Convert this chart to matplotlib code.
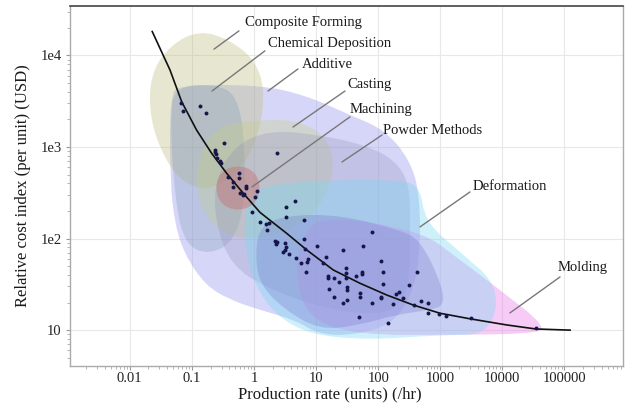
import numpy as np
import matplotlib
matplotlib.use('Agg')
import matplotlib.pyplot as plt
from matplotlib.path import Path
from matplotlib.patches import PathPatch
from matplotlib.ticker import LogLocator, NullFormatter, FixedLocator, FixedFormatter

plt.rcParams['font.family'] = ['Liberation Serif', 'DejaVu Serif']

# ---------------- data ----------------
x_ticks = [0.01, 0.1, 1, 10, 100, 1000, 10000, 100000]
x_tick_labels = ['0.01', '0.1', '1', '10', '100', '1000', '10000', '100000']
y_ticks = [10, 100, 1000, 10000]
y_tick_labels = ['10', '1e2', '1e3', '1e4']

# observed parts (production rate /hr, relative cost index USD)
rate_pts = [0.0668, 0.0719, 0.135, 0.169, 0.329, 0.235, 0.235, 0.244, 0.254, 0.283,
            0.294, 0.381, 0.573, 0.573, 0.459, 0.459, 0.743, 0.743, 0.595, 0.665,
            0.690, 2.32, 1.12, 1.04, 4.57, 3.24, 3.24, 0.918, 1.25, 1.56,
            1.74, 6.38, 1.60, 78.6, 2.18, 2.35, 2.26, 3.16, 3.27, 3.16,
            2.93, 3.66, 6.38, 10.2, 6.63, 4.75, 7.41, 7.13, 5.71, 6.88,
            12.8, 14.4, 27.4, 56.3, 110, 121, 417, 121, 317, 15.8,
            15.8, 19.4, 23.6, 30.3, 30.3, 30.3, 43.9, 54.8, 54.8, 16.3,
            31.4, 31.4, 19.4, 31.8, 27.4, 50.9, 50.9, 78.6, 111, 111,
            171, 194, 216, 251, 377, 489, 634, 634, 953, 1240,
            49.6, 142, 3090, 34400]
cost_pts = [3020, 2470, 2810, 2350, 1100, 927, 882, 839, 759, 703,
            668, 474, 520, 459, 415, 366, 375, 357, 315, 299,
            307, 866, 331, 284, 257, 223, 173, 197, 153, 144,
            148, 160, 124, 117, 94.2, 91.8, 87.3, 89.5, 81.0, 75.1,
            71.5, 67.9, 99.1, 83.6, 76.4, 60.9, 59.9, 55.6, 53.7, 43.5,
            53.7, 63.4, 75.1, 83.6, 56.9, 43.5, 42.9, 31.9, 31.1, 39.1,
            37.4, 36.9, 33.9, 47.8, 42.1, 37.2, 39.1, 43.2, 41.0, 28.0,
            29.7, 27.5, 22.9, 21.4, 19.7, 25.5, 23.2, 19.7, 23.0, 22.5,
            19.2, 24.8, 26.1, 22.5, 18.8, 20.8, 19.8, 15.5, 15.0, 14.3,
            13.8, 12.1, 13.5, 10.5]

# trend curve
fit_rate = [0.0230, 0.0444, 0.0685, 0.119, 0.208, 0.363, 0.673, 1.25, 3.36, 7.06,
            18.9, 50.9, 137, 367, 989, 3010, 11700, 34400, 123000]
fit_cost = [18200, 6930, 3120, 1530, 853, 516, 312, 193, 114, 75.1,
            45.4, 32.5, 24.2, 18.8, 15.3, 13.3, 11.4, 10.3, 10.0]

# process regions (outline control points: rate, cost)
additive_rate = [0.0444, 0.0643, 1.25, 6.63, 35.1, 129, 325, 471, 471, 325,
                 155, 42.3, 11.6, 4.57, 1.25, 0.411, 0.163, 0.0774, 0.0534, 0.0444]
additive_cost = [3690, 4750, 4750, 3690, 2240, 1530, 721, 299, 58.4, 21.4,
                 11.4, 8.87, 8.87, 12.9, 16.6, 21.4, 31.1, 66.2, 141, 436]

composite_rate = [0.135, 0.411, 1.04, 1.50, 1.25, 0.716, 0.235, 0.0774, 0.0369, 0.0211, 0.0211, 0.0444]
composite_cost = [18900, 14700, 8910, 4190, 1530, 636, 339, 385, 721, 1970, 6110, 13000]

chemdep_rate = [0.0534, 0.341, 0.595, 0.716, 0.716, 0.494, 0.196, 0.0774, 0.0534, 0.0444]
chemdep_cost = [4750, 4750, 2870, 927, 264, 96.6, 66.2, 85.2, 264, 1970]

casting_rate = [1.04, 5.50, 16.7, 20.1, 9.60, 2.62, 0.595, 0.196, 0.112, 0.135, 0.283]
casting_cost = [1970, 1970, 1190, 494, 181, 109, 96.6, 141, 339, 927, 1740]

powder_rate = [0.494, 1.81, 11.6, 61.3, 187, 325, 325, 325, 224, 107, 16.7, 1.81, 0.411, 0.235, 0.235]
powder_cost = [1050, 1530, 1350, 1050, 721, 385, 124, 35.3, 18.8, 14.7, 16.6, 27.5, 51.5, 160, 436]

molding_rate = [11.6, 471, 2080, 9140, 54200, 27800, 1430, 50.9, 7.98, 4.57, 5.50]
molding_cost = [181, 124, 58.4, 27.5, 10.6, 9.09, 8.87, 8.87, 12.9, 35.3, 96.6]

deformation_rate = [1.25, 16.7, 187, 471, 567, 2080, 9140, 6310, 989, 73.8, 7.98, 2.18, 1.04, 0.716, 0.716]
deformation_cost = [385, 436, 436, 385, 152, 71.5, 29.6, 8.87, 8.87, 7.82, 8.87, 14.7, 31.1, 75.1, 233]

dense_rate = [1.25, 3.80, 24.3, 224, 471, 989, 1190, 683, 187, 50.9, 11.6, 3.16, 1.25, 1.04]
dense_cost = [141, 181, 181, 124, 96.6, 35.3, 18.8, 16.6, 14.7, 11.4, 10.0, 16.6, 31.1, 66.2]

machining_rate = [0.553, 1.04, 1.30, 1.04, 0.553, 0.294, 0.235, 0.294]
machining_cost = [636, 547, 357, 233, 200, 233, 357, 547]

# ---------------- figure ----------------
fig = plt.figure(figsize=(6.28, 4.04), dpi=100)
ax = fig.add_axes([70 / 628, 1 - 366 / 404, (623 - 70) / 628, (366 - 6) / 404])
ax.set_xscale('log')
ax.set_yscale('log')
ax.set_xlim(0.00109, 875000)
ax.set_ylim(4.06, 34600)


def blob(xs, ys, color, alpha, z):
    xs = np.asarray(xs, float)
    ys = np.asarray(ys, float)
    lx, ly = np.log10(xs), np.log10(ys)
    mx = 10 ** ((lx + np.roll(lx, -1)) / 2)
    my = 10 ** ((ly + np.roll(ly, -1)) / 2)
    verts = [(mx[-1], my[-1])]
    codes = [Path.MOVETO]
    for i in range(len(xs)):
        verts += [(xs[i], ys[i]), (mx[i], my[i])]
        codes += [Path.CURVE3, Path.CURVE3]
    verts.append(verts[0])
    codes.append(Path.CLOSEPOLY)
    ax.add_patch(PathPatch(Path(verts, codes), facecolor=color, edgecolor='none',
                           alpha=alpha, zorder=z))


blob(additive_rate, additive_cost, '#9a9aee', 0.40, 2)
blob(composite_rate, composite_cost, '#bebe80', 0.36, 2.1)
blob(chemdep_rate, chemdep_cost, '#7898b0', 0.28, 2.2)
blob(casting_rate, casting_cost, '#c4d080', 0.32, 2.3)
blob(powder_rate, powder_cost, '#9090b8', 0.28, 2.4)
blob(molding_rate, molding_cost, '#ea86ea', 0.42, 2.5)
blob(deformation_rate, deformation_cost, '#78d8f2', 0.36, 2.6)
blob(dense_rate, dense_cost, '#7878cc', 0.30, 2.7)
blob(machining_rate, machining_cost, '#c86464', 0.38, 2.8)

ax.plot(fit_rate, fit_cost, color='#111111', lw=1.2, zorder=4)
ax.scatter(rate_pts, cost_pts, s=8, color='#16164a', zorder=5, linewidths=0)

# ---------------- labels with leader lines ----------------
labels = [
    ('Composite Forming', (0.227, 11700), (0.573, 18500), (0.716, 22600)),
    ('Chemical Deposition', (0.211, 4080), (1.50, 11200), (1.68, 13600)),
    ('Additive', (1.68, 4080), (5.11, 7110), (5.93, 7860)),
    ('Casting', (4.25, 1650), (29.2, 4080), (31.4, 4750)),
    ('Machining', (0.928, 366), (35.1, 2130), (35.1, 2540)),
    ('Powder Methods', (26.1, 685), (115, 1350), (119, 1530)),
    ('Deformation', (471, 134), (3010, 323), (3360, 366)),
    ('Molding', (13200, 15.4), (84700, 38.1), (78500, 47.8)),
]
for name, tip, end, tpos in labels:
    ax.annotate('', xy=tip, xytext=end,
                arrowprops=dict(arrowstyle='-', color='#777777', lw=1.0,
                                shrinkA=0, shrinkB=0), zorder=6)
    ax.text(tpos[0], tpos[1], name, ha='left', va='center', fontsize=10.5,
            color='#1a1a1a', zorder=7)

# ---------------- axes styling ----------------
ax.xaxis.set_major_locator(FixedLocator(x_ticks))
ax.xaxis.set_major_formatter(FixedFormatter(x_tick_labels))
ax.yaxis.set_major_locator(FixedLocator(y_ticks))
ax.yaxis.set_major_formatter(FixedFormatter(y_tick_labels))
ax.xaxis.set_minor_locator(LogLocator(base=10, subs=np.arange(2, 10), numticks=20))
ax.yaxis.set_minor_locator(LogLocator(base=10, subs=np.arange(2, 10), numticks=20))
ax.xaxis.set_minor_formatter(NullFormatter())
ax.yaxis.set_minor_formatter(NullFormatter())
ax.tick_params(which='major', direction='out', length=3, color='#999999',
               labelsize=10.5, labelcolor='#222222')
ax.tick_params(axis='x', which='major', pad=1.5)
ax.tick_params(axis='y', which='major', pad=3)
ax.tick_params(which='minor', direction='out', length=2, color='#aaaaaa')
ax.grid(True, which='major', color='#e8e8e8', lw=0.8)
ax.set_axisbelow(True)

for side in ['left', 'bottom', 'right']:
    ax.spines[side].set_color('#aaaaaa')
    ax.spines[side].set_linewidth(1.0)
ax.spines['top'].set_color('#444444')
ax.spines['top'].set_linewidth(1.2)

ax.set_xlabel('Production rate (units) (/hr)', fontsize=12, color='#1a1a1a')
ax.set_ylabel('Relative cost index (per unit) (USD)', fontsize=12, color='#1a1a1a')
ax.xaxis.set_label_coords((330 - 70) / (623 - 70), -0.058)
ax.yaxis.set_label_coords(-0.071, 0.50)

fig.savefig('out.png', dpi=100)
